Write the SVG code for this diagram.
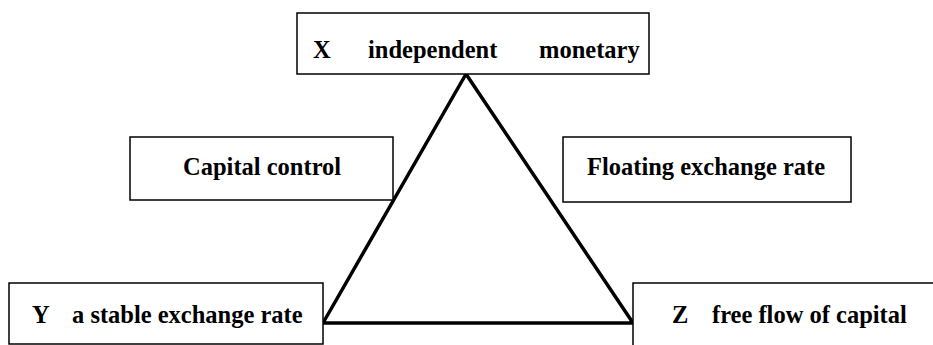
<svg xmlns="http://www.w3.org/2000/svg" width="933" height="345" viewBox="0 0 933 345">
<style>
.box{fill:#fff;stroke:#000;stroke-width:1.5}
.t{font-family:"Liberation Serif","Times New Roman",serif;font-weight:bold;font-size:24.5px;fill:#000}
.edge{fill:none;stroke:#000;stroke-width:3.5;stroke-linejoin:miter}
</style>
<rect width="933" height="345" fill="#fff"/>
<g id="connectors">
<path class="edge" d="M466,74 L323,323 M466,74 L633,323 M323,323 L633,323"/>
</g>
<g id="nodeX">
<rect class="box" x="297" y="13" width="352" height="61"/>
<text class="t" x="313" y="58">X</text>
<text class="t" x="368" y="58">independent</text>
<text class="t" x="539" y="58">monetary</text>
</g>
<g id="capitalControl">
<rect class="box" x="130" y="137" width="263" height="63"/>
<text class="t" x="183" y="175">Capital control</text>
</g>
<g id="floating">
<rect class="box" x="563" y="137" width="288" height="65"/>
<text class="t" x="587" y="175">Floating exchange rate</text>
</g>
<g id="nodeY">
<rect class="box" x="9" y="283" width="314" height="61"/>
<text class="t" x="32" y="323">Y</text>
<text class="t" x="72" y="323">a stable exchange rate</text>
</g>
<g id="nodeZ">
<rect class="box" x="633" y="283" width="310" height="70"/>
<text class="t" x="672" y="323">Z</text>
<text class="t" x="712" y="323">free flow of capital</text>
</g>
</svg>
